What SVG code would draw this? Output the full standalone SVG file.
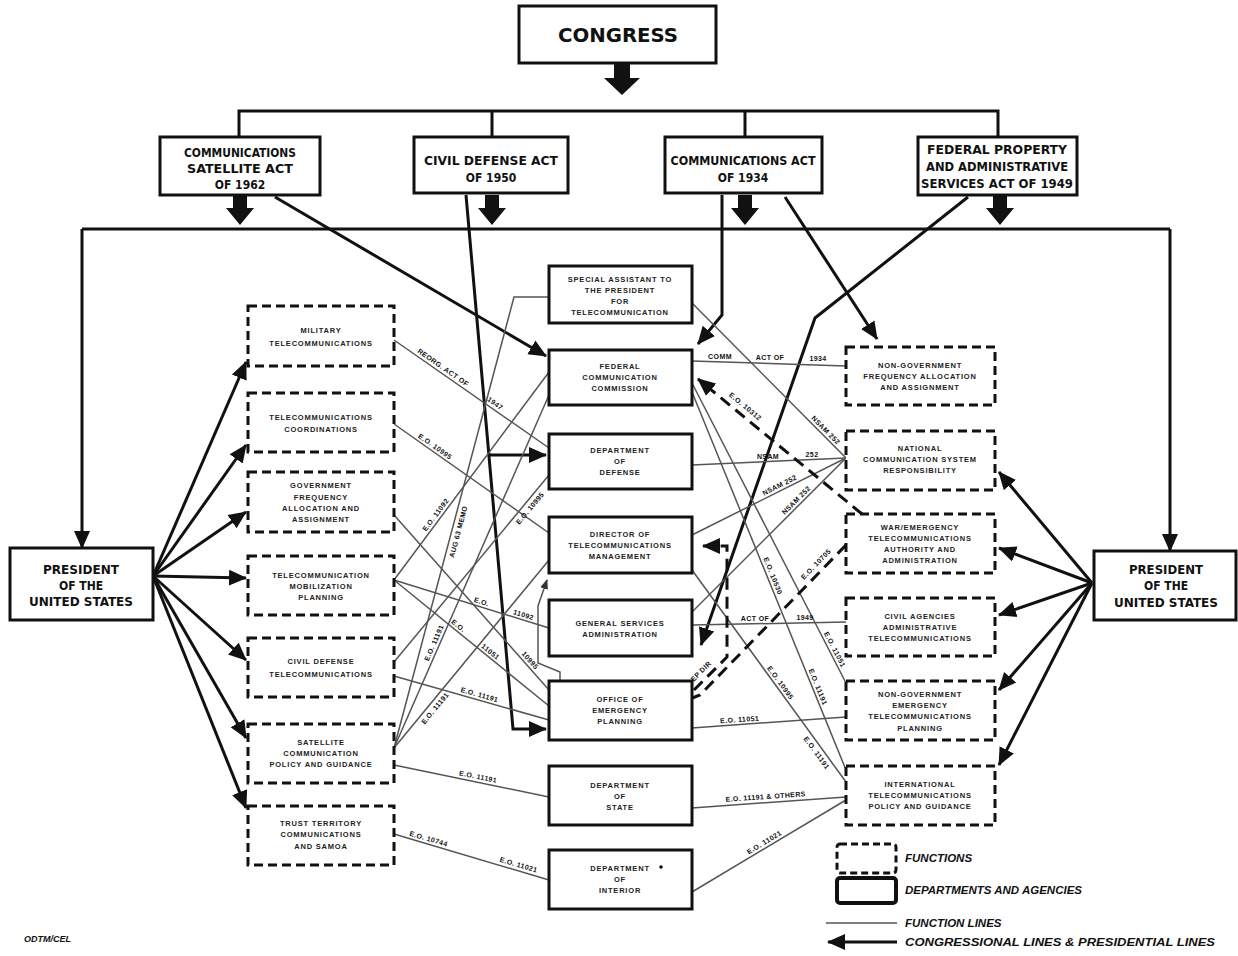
<svg xmlns="http://www.w3.org/2000/svg" width="1238" height="956" viewBox="0 0 1238 956">
<defs>
<marker id="ah" markerUnits="userSpaceOnUse" markerWidth="20" markerHeight="18" refX="17" refY="9" orient="auto"><path d="M0,1 L18,9 L0,17 z" fill="#111"/></marker>
<marker id="as" markerUnits="userSpaceOnUse" markerWidth="10" markerHeight="8" refX="9" refY="4" orient="auto"><path d="M0,0 L10,4 L0,8 z" fill="#333"/></marker>
<style>
.fn{fill:#fff;stroke:#111;stroke-width:3;stroke-dasharray:9 5}
.dp{fill:#fff;stroke:#111;stroke-width:3}
.th{stroke:#111;stroke-width:3;fill:none}
.tn{stroke:#555;stroke-width:1.5;fill:none}
.ds{stroke:#111;stroke-width:3;fill:none;stroke-dasharray:12 7}
.ba{fill:#111}
.bt{font-family:"Liberation Sans",Arial,sans-serif;font-size:7.5px;font-weight:bold;letter-spacing:0.8px;text-anchor:middle;fill:#222}
.lb{font-family:"Liberation Sans",Arial,sans-serif;font-size:7px;font-weight:bold;letter-spacing:0.4px;text-anchor:middle;fill:#111}
.hd{font-family:"DejaVu Sans Condensed","DejaVu Sans","Liberation Sans",sans-serif;font-stretch:condensed;font-size:12px;font-weight:bold;text-anchor:middle;fill:#111}
.lg{font-family:"Liberation Sans",Arial,sans-serif;font-size:11.5px;font-weight:bold;font-style:italic;fill:#111}
</style>
</defs>
<rect width="1238" height="956" fill="#fff"/>

<g id="connectors">
<polygon class="ba" points="614,63 630,63 630,78 640,78 622,95 604,78 614,78"/>
<path class="th" d="M239,137 V111 H998 V137 M492,111 V137 M745,111 V137"/>
<polygon class="ba" points="233,195 247,195 247,208 254,208 240,225 226,208 233,208"/>
<polygon class="ba" points="485,195 499,195 499,208 506,208 492,225 478,208 485,208"/>
<polygon class="ba" points="738,195 752,195 752,208 759,208 745,225 731,208 738,208"/>
<polygon class="ba" points="993,195 1007,195 1007,208 1014,208 1000,225 986,208 993,208"/>
<path class="th" d="M82,229 H1170"/>
<path class="th" d="M82,229 V548" marker-end="url(#ah)"/>
<path class="th" d="M1170,229 V551" marker-end="url(#ah)"/>
<path class="th" d="M275,197 L546,356" marker-end="url(#ah)"/>
<path class="th" d="M466,195 L513,729 H546" marker-end="url(#ah)"/>
<path class="th" d="M489,455 H546" marker-end="url(#ah)"/>
<path class="th" d="M722,195 V315 L698,344" marker-end="url(#ah)"/>
<path class="th" d="M785,197 L877,339" marker-end="url(#ah)"/>
<path class="th" d="M968,197 L815,318 L701,645" marker-end="url(#ah)"/>
<path class="th" d="M153,576 L246,362" marker-end="url(#ah)"/>
<path class="th" d="M153,576 L246,445" marker-end="url(#ah)"/>
<path class="th" d="M153,576 L246,512" marker-end="url(#ah)"/>
<path class="th" d="M153,576 L246,578" marker-end="url(#ah)"/>
<path class="th" d="M153,576 L246,660" marker-end="url(#ah)"/>
<path class="th" d="M153,576 L246,738" marker-end="url(#ah)"/>
<path class="th" d="M153,576 L246,808" marker-end="url(#ah)"/>
<path class="th" d="M1092,583 L999,472" marker-end="url(#ah)"/>
<path class="th" d="M1092,583 L999,548" marker-end="url(#ah)"/>
<path class="th" d="M1092,583 L999,615" marker-end="url(#ah)"/>
<path class="th" d="M1092,583 L999,690" marker-end="url(#ah)"/>
<path class="th" d="M1092,583 L999,765" marker-end="url(#ah)"/>
<path class="tn" d="M394,340 L549,448"/>
<path class="tn" d="M394,424 L549,533"/>
<path class="tn" d="M394,515 L549,690"/>
<path class="tn" d="M394,580 L549,628"/>
<path class="tn" d="M394,580 L549,706"/>
<path class="tn" d="M394,580 L549,372"/>
<path class="tn" d="M394,662 L549,475"/>
<path class="tn" d="M394,676 L549,720"/>
<path class="tn" d="M394,748 L514,297 H549"/>
<path class="tn" d="M394,748 L549,395"/>
<path class="tn" d="M394,748 L549,560"/>
<path class="tn" d="M394,765 L549,797"/>
<path class="tn" d="M394,834 L549,880"/>
<path class="tn" d="M560,698 V672 L538,663 V606 L547,580" marker-end="url(#as)"/>
<path class="tn" d="M692,361 L846,366"/>
<path class="tn" d="M692,303 L846,458"/>
<path class="tn" d="M692,465 L846,458"/>
<path class="tn" d="M692,535 L846,458"/>
<path class="tn" d="M692,612 L846,458"/>
<path class="tn" d="M692,625 L846,622"/>
<path class="tn" d="M692,728 L846,717"/>
<path class="tn" d="M692,808 L846,797"/>
<path class="tn" d="M692,892 L846,800"/>
<path class="tn" d="M692,383 L846,683"/>
<path class="tn" d="M692,392 L846,770"/>
<path class="tn" d="M692,570 L846,782"/>
<path class="ds" d="M862,514 L698,379" marker-end="url(#ah)"/>
<path class="ds" d="M846,545 L700,695 L682,702 L680,727" marker-end="url(#as)"/>
<path class="ds" d="M694,690 L727,657 V546 H703" marker-end="url(#ah)"/>
</g>

<g id="labels">
<text class="lb" transform="translate(440,372) rotate(34.9)" y="-3">REORG. ACT OF</text>
<text class="lb" transform="translate(492,408) rotate(34.9)" y="-3">1947</text>
<text class="lb" transform="translate(432,451) rotate(35.1)" y="-3">E.O. 10995</text>
<text class="lb" transform="translate(526,664) rotate(48.5)" y="-3">10995</text>
<text class="lb" transform="translate(480,607) rotate(17.2)" y="-3">E.O.</text>
<text class="lb" transform="translate(522,620) rotate(17.2)" y="-3">11092</text>
<text class="lb" transform="translate(455,630) rotate(39.1)" y="-3">E.O.</text>
<text class="lb" transform="translate(487,656) rotate(39.1)" y="-3">11051</text>
<text class="lb" transform="translate(440,518) rotate(-53.3)" y="-3">E.O. 11092</text>
<text class="lb" transform="translate(525,504) rotate(-50.3)" y="9">E.O. 10995</text>
<text class="lb" transform="translate(478,700) rotate(15.9)" y="-3">E.O. 11191</text>
<text class="lb" transform="translate(452,530) rotate(-75.1)" y="9">AUG 63 MEMO</text>
<text class="lb" transform="translate(439,645) rotate(-66.3)" y="-3">E.O. 11191</text>
<text class="lb" transform="translate(430,704) rotate(-50.5)" y="9">E.O. 11191</text>
<text class="lb" transform="translate(477,782) rotate(11.7)" y="-3">E.O. 11191</text>
<text class="lb" transform="translate(427,844) rotate(16.5)" y="-3">E.O. 10744</text>
<text class="lb" transform="translate(517,870) rotate(16.5)" y="-3">E.O. 11021</text>
<text class="lb" x="720" y="359">COMM</text>
<text class="lb" x="770" y="360">ACT OF</text>
<text class="lb" x="818" y="361">1934</text>
<text class="lb" transform="translate(822,434) rotate(45.2)" y="-3">NSAM 252</text>
<text class="lb" x="768" y="459">NSAM</text>
<text class="lb" x="812" y="457">252</text>
<text class="lb" transform="translate(782,490) rotate(-26.6)" y="-3">NSAM 252</text>
<text class="lb" transform="translate(800,504) rotate(-45)" y="-3">NSAM 252</text>
<text class="lb" x="755" y="621">ACT OF</text>
<text class="lb" x="805" y="620">1949</text>
<text class="lb" transform="translate(740,725) rotate(-4)" y="-3">E.O. 11051</text>
<text class="lb" transform="translate(766,802) rotate(-4)" y="-3">E.O. 11191 &amp; OTHERS</text>
<text class="lb" transform="translate(767,847) rotate(-30.9)" y="-3">E.O. 11021</text>
<text class="lb" transform="translate(830,652) rotate(62.8)" y="-3">E.O. 11051</text>
<text class="lb" transform="translate(768,578) rotate(67.8)" y="-3">E.O. 10530</text>
<text class="lb" transform="translate(813,689) rotate(67.8)" y="-3">E.O. 11191</text>
<text class="lb" transform="translate(776,686) rotate(54)" y="-3">E.O. 10995</text>
<text class="lb" transform="translate(822,749) rotate(54)" y="9">E.O. 11191</text>
<text class="lb" transform="translate(740,413) rotate(39.5)" y="-6">E.O. 10312</text>
<text class="lb" transform="translate(822,570) rotate(-45.8)" y="-6">E.O. 10705</text>
<text class="lb" transform="translate(705,679) rotate(-45)" y="-6">DEP DIR</text>
</g>

<g id="congress">
<rect class="dp" x="519" y="6" width="197" height="57"/>
<text class="hd" x="618" y="42" style="font-size:20px" textLength="120" lengthAdjust="spacingAndGlyphs">CONGRESS</text>
</g>
<g id="act-satellite">
<rect class="dp" x="160" y="137" width="160" height="58"/>
<text class="hd" x="240" y="157" textLength="112" lengthAdjust="spacingAndGlyphs">COMMUNICATIONS</text>
<text class="hd" x="240" y="173" textLength="106" lengthAdjust="spacingAndGlyphs">SATELLITE ACT</text>
<text class="hd" x="240" y="189">OF 1962</text>
</g>
<g id="act-civil-defense">
<rect class="dp" x="414" y="137" width="154" height="56"/>
<text class="hd" x="491" y="165" textLength="134" lengthAdjust="spacingAndGlyphs">CIVIL DEFENSE ACT</text>
<text class="hd" x="491" y="182">OF 1950</text>
</g>
<g id="act-communications">
<rect class="dp" x="665" y="137" width="157" height="56"/>
<text class="hd" x="743" y="165" textLength="145" lengthAdjust="spacingAndGlyphs">COMMUNICATIONS ACT</text>
<text class="hd" x="743" y="182">OF 1934</text>
</g>
<g id="act-federal-property">
<rect class="dp" x="918" y="137" width="159" height="58"/>
<text class="hd" x="997" y="154" textLength="140" lengthAdjust="spacingAndGlyphs">FEDERAL PROPERTY</text>
<text class="hd" x="997" y="171" textLength="142" lengthAdjust="spacingAndGlyphs">AND ADMINISTRATIVE</text>
<text class="hd" x="997" y="188" textLength="152" lengthAdjust="spacingAndGlyphs">SERVICES ACT OF 1949</text>
</g>
<g id="president-left">
<rect class="dp" x="10" y="548" width="143" height="72"/>
<text class="hd" x="81" y="574" textLength="76" lengthAdjust="spacingAndGlyphs">PRESIDENT</text>
<text class="hd" x="81" y="590">OF THE</text>
<text class="hd" x="81" y="606" textLength="104" lengthAdjust="spacingAndGlyphs">UNITED STATES</text>
</g>
<g id="president-right">
<rect class="dp" x="1094" y="551" width="142" height="69"/>
<text class="hd" x="1166" y="574" textLength="74" lengthAdjust="spacingAndGlyphs">PRESIDENT</text>
<text class="hd" x="1166" y="590">OF THE</text>
<text class="hd" x="1166" y="607" textLength="104" lengthAdjust="spacingAndGlyphs">UNITED STATES</text>
</g>

<g id="f-military">
<rect class="fn" x="248" y="306" width="146" height="60"/>
<text class="bt" x="321" y="333">MILITARY</text>
<text class="bt" x="321" y="346">TELECOMMUNICATIONS</text>
</g>
<g id="f-coordinations">
<rect class="fn" x="248" y="393" width="146" height="59"/>
<text class="bt" x="321" y="420">TELECOMMUNICATIONS</text>
<text class="bt" x="321" y="432">COORDINATIONS</text>
</g>
<g id="f-gov-frequency">
<rect class="fn" x="248" y="472" width="146" height="60"/>
<text class="bt" x="321" y="488">GOVERNMENT</text>
<text class="bt" x="321" y="500">FREQUENCY</text>
<text class="bt" x="321" y="511">ALLOCATION AND</text>
<text class="bt" x="321" y="522">ASSIGNMENT</text>
</g>
<g id="f-mobilization">
<rect class="fn" x="248" y="556" width="146" height="59"/>
<text class="bt" x="321" y="578">TELECOMMUNICATION</text>
<text class="bt" x="321" y="589">MOBILIZATION</text>
<text class="bt" x="321" y="600">PLANNING</text>
</g>
<g id="f-civil-defense">
<rect class="fn" x="248" y="638" width="146" height="59"/>
<text class="bt" x="321" y="664">CIVIL DEFENSE</text>
<text class="bt" x="321" y="677">TELECOMMUNICATIONS</text>
</g>
<g id="f-satellite">
<rect class="fn" x="248" y="724" width="146" height="59"/>
<text class="bt" x="321" y="745">SATELLITE</text>
<text class="bt" x="321" y="756">COMMUNICATION</text>
<text class="bt" x="321" y="767">POLICY AND GUIDANCE</text>
</g>
<g id="f-trust-territory">
<rect class="fn" x="248" y="806" width="146" height="59"/>
<text class="bt" x="321" y="826">TRUST TERRITORY</text>
<text class="bt" x="321" y="837">COMMUNICATIONS</text>
<text class="bt" x="321" y="849">AND SAMOA</text>
</g>

<g id="d-special-assistant">
<rect class="dp" x="549" y="266" width="143" height="57"/>
<text class="bt" x="620" y="282">SPECIAL ASSISTANT TO</text>
<text class="bt" x="620" y="293">THE PRESIDENT</text>
<text class="bt" x="620" y="304">FOR</text>
<text class="bt" x="620" y="315">TELECOMMUNICATION</text>
</g>
<g id="d-fcc">
<rect class="dp" x="549" y="350" width="143" height="55"/>
<text class="bt" x="620" y="369">FEDERAL</text>
<text class="bt" x="620" y="380">COMMUNICATION</text>
<text class="bt" x="620" y="391">COMMISSION</text>
</g>
<g id="d-defense">
<rect class="dp" x="549" y="434" width="143" height="55"/>
<text class="bt" x="620" y="453">DEPARTMENT</text>
<text class="bt" x="620" y="464">OF</text>
<text class="bt" x="620" y="475">DEFENSE</text>
</g>
<g id="d-director-tm">
<rect class="dp" x="549" y="517" width="143" height="56"/>
<text class="bt" x="620" y="537">DIRECTOR OF</text>
<text class="bt" x="620" y="548">TELECOMMUNICATIONS</text>
<text class="bt" x="620" y="559">MANAGEMENT</text>
</g>
<g id="d-gsa">
<rect class="dp" x="549" y="600" width="143" height="56"/>
<text class="bt" x="620" y="626">GENERAL SERVICES</text>
<text class="bt" x="620" y="637">ADMINISTRATION</text>
</g>
<g id="d-oep">
<rect class="dp" x="549" y="681" width="143" height="59"/>
<text class="bt" x="620" y="702">OFFICE OF</text>
<text class="bt" x="620" y="713">EMERGENCY</text>
<text class="bt" x="620" y="724">PLANNING</text>
</g>
<g id="d-state">
<rect class="dp" x="549" y="766" width="143" height="59"/>
<text class="bt" x="620" y="788">DEPARTMENT</text>
<text class="bt" x="620" y="799">OF</text>
<text class="bt" x="620" y="810">STATE</text>
</g>
<g id="d-interior">
<rect class="dp" x="549" y="850" width="143" height="59"/>
<text class="bt" x="620" y="871">DEPARTMENT</text>
<text class="bt" x="620" y="882">OF</text>
<text class="bt" x="620" y="893">INTERIOR</text>
<circle cx="661" cy="867" r="1.8" fill="#111"/>
</g>

<g id="f-nongov-frequency">
<rect class="fn" x="846" y="347" width="149" height="58"/>
<text class="bt" x="920" y="368">NON-GOVERNMENT</text>
<text class="bt" x="920" y="379">FREQUENCY ALLOCATION</text>
<text class="bt" x="920" y="390">AND ASSIGNMENT</text>
</g>
<g id="f-ncs">
<rect class="fn" x="846" y="431" width="149" height="59"/>
<text class="bt" x="920" y="451">NATIONAL</text>
<text class="bt" x="920" y="462">COMMUNICATION SYSTEM</text>
<text class="bt" x="920" y="473">RESPONSIBILITY</text>
</g>
<g id="f-war-emergency">
<rect class="fn" x="846" y="514" width="149" height="59"/>
<text class="bt" x="920" y="530">WAR/EMERGENCY</text>
<text class="bt" x="920" y="541">TELECOMMUNICATIONS</text>
<text class="bt" x="920" y="552">AUTHORITY AND</text>
<text class="bt" x="920" y="563">ADMINISTRATION</text>
</g>
<g id="f-civil-agencies">
<rect class="fn" x="846" y="598" width="149" height="58"/>
<text class="bt" x="920" y="619">CIVIL AGENCIES</text>
<text class="bt" x="920" y="630">ADMINISTRATIVE</text>
<text class="bt" x="920" y="641">TELECOMMUNICATIONS</text>
</g>
<g id="f-nongov-emergency">
<rect class="fn" x="846" y="681" width="149" height="59"/>
<text class="bt" x="920" y="697">NON-GOVERNMENT</text>
<text class="bt" x="920" y="708">EMERGENCY</text>
<text class="bt" x="920" y="719">TELECOMMUNICATIONS</text>
<text class="bt" x="920" y="731">PLANNING</text>
</g>
<g id="f-international">
<rect class="fn" x="846" y="766" width="149" height="59"/>
<text class="bt" x="920" y="787">INTERNATIONAL</text>
<text class="bt" x="920" y="798">TELECOMMUNICATIONS</text>
<text class="bt" x="920" y="809">POLICY AND GUIDANCE</text>
</g>

<g id="legend">
<rect class="fn" x="837" y="844" width="59" height="29" rx="3" style="stroke-dasharray:7 4"/>
<text class="lg" x="905" y="862">FUNCTIONS</text>
<rect class="dp" x="837" y="878" width="59" height="25" rx="3" style="stroke-width:4"/>
<text class="lg" x="905" y="894">DEPARTMENTS AND AGENCIES</text>
<path class="tn" d="M826,923 H897"/>
<text class="lg" x="905" y="927">FUNCTION LINES</text>
<path class="th" d="M897,942 H828" marker-end="url(#ah)"/>
<text class="lg" x="905" y="946" textLength="310" lengthAdjust="spacingAndGlyphs">CONGRESSIONAL LINES &amp; PRESIDENTIAL LINES</text>
</g>
<text class="lg" x="24" y="942" style="font-size:9px">ODTM/CEL</text>
</svg>
